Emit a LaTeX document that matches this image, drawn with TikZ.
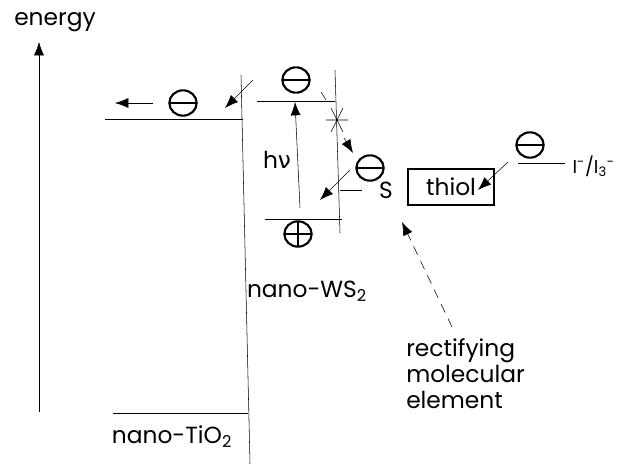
\documentclass[tikz,border=0pt]{standalone}
\usepackage{fontspec}
\setmainfont{Poppins}
\newfontfamily\grk{DejaVu Sans}
\usepackage{tikz}
\usetikzlibrary{arrows.meta,shapes.geometric,positioning}
\tikzset{
    >={Latex[length=10pt,width=7.5pt]}, line width=1.6pt,
    electron/.style={ellipse, draw, line width=1.6pt, inner sep=0pt,
        minimum width=20.5pt, minimum height=19pt,
        path picture={\draw[line width=1.6pt] (path picture bounding box.west) -- (path picture bounding box.east);}},
    hole/.style={ellipse, draw, line width=1.6pt, inner sep=0pt,
        minimum width=20.5pt, minimum height=19pt,
        path picture={\draw[line width=1.6pt] (path picture bounding box.west) -- (path picture bounding box.east)
            (path picture bounding box.north) -- (path picture bounding box.south);}},
    lbl/.style={font=\fontsize{17.5}{19.5}\selectfont, inner sep=0pt},
    box/.style={rectangle, draw, line width=1.6pt, minimum width=65pt, minimum height=27pt}
}

\begin{document}
\begin{tikzpicture}[x=0.75pt,y=-0.75pt]
  \useasboundingbox (0,0) rectangle (617,464);
  % Draw the nodes
  \node[lbl] (energy) at (55,22) {energy};
  \node[electron] (eTi) at (183,103) {};
  \node[electron] (eWS) at (296,80) {};
  \node[hole] (hWS) at (298,234) {};
  \node[electron] (eS) at (370,168) {};
  \node[electron] (eI) at (530,145) {};
  \node[lbl] (hnu) at (277,160) {h{\grk ν}};
  \node[lbl] (sLbl) at (386,190) {S};
  \node[lbl, box] (thiol) at (451,187) {thiol};
  \node[lbl, anchor=east, font=\fontsize{14}{16}\selectfont] (redox) at (615,166) {I\textsuperscript{-}/I\textsubscript{3}\textsuperscript{-}};
  \node[lbl] (tio2) at (172,437) {nano-TiO\textsubscript{2}};
  \node[lbl] (ws2) at (307,291) {nano-WS\textsubscript{2}};
  \node[lbl, align=left, anchor=north west] (rme) at (406,338) {rectifying\\molecular\\element};

  \coordinate (eBot) at (39,412);
  \coordinate (eTop) at (39,42);
  \coordinate (tiTop) at (241,75);
  \coordinate (tiBot) at (250,464);
  \coordinate (cross) at (337,120);

  % Draw the levels
  \draw (105,119) -- (243,119);
  \draw (113,413) -- (248,413);
  \draw (tiTop) -- (tiBot);
  \draw (257,101) -- (335,101);
  \draw (265,219) -- (342,219);
  \draw (335,70) -- (340,233);
  \draw (340,190) -- (362,190);
  \draw (518,163) -- (565,163);
  \draw (321,92) -- (326,100);
  \draw (cross) ++(-11,0) -- ++(22,0)
        (cross) ++(-6,-12) -- ++(12,24)
        (cross) ++(6,-12) -- ++(-12,24);

  % Draw the arrows
  \draw[->] (eBot) -- (eTop);
  \draw[->] (153,103) -- (115,103);
  \draw[->] (253,80) -- (225,108);
  \draw[->] (300,208) -- (295,102);
  \draw[->] (344,138) -- (353,153);
  \draw[->] (350,170) -- (320,200);
  \draw[->] (508,162) -- (478,190);
  \draw[->, dashed, dash pattern=on 7pt off 5pt] (452,327) -- (402,222);
\end{tikzpicture}
\end{document}
